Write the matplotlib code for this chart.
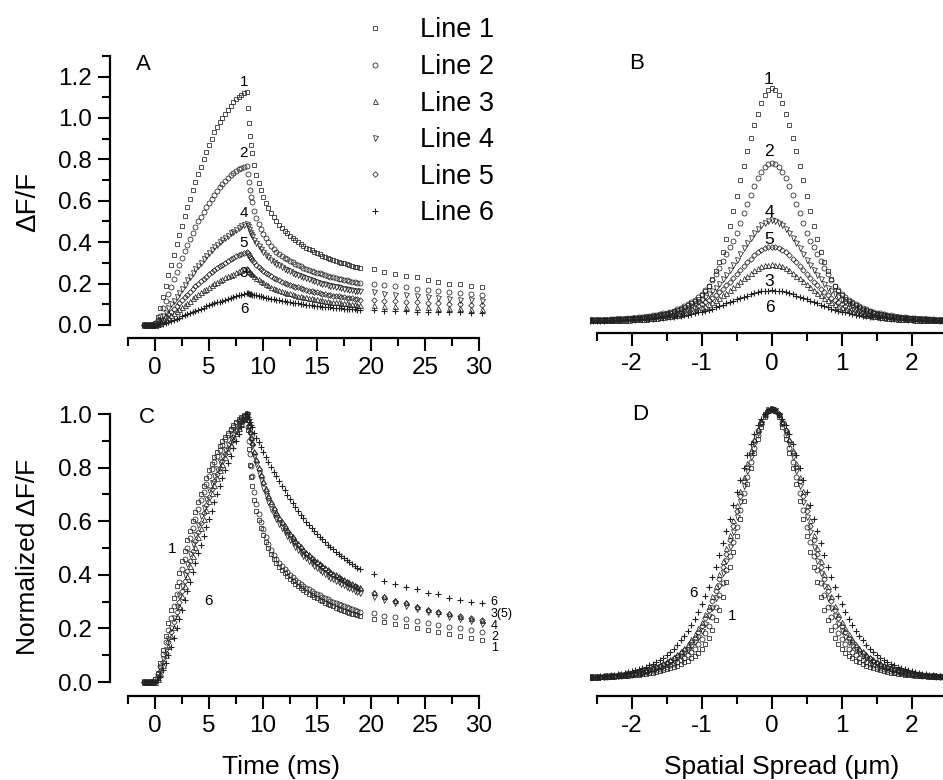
import matplotlib.pyplot as plt
from matplotlib.ticker import MultipleLocator, FormatStrFormatter

plt.rcParams["font.family"] = ["Liberation Sans", "DejaVu Sans"]
plt.rcParams["axes.unicode_minus"] = False

# time base (ms): dense sampling to 19 ms, then one point per ms
time_ms = [-1.0, -0.75, -0.5, -0.25, 0.0, 0.25, 0.5, 0.75, 1.0, 1.25, 1.5, 1.75, 2.0, 2.25, 2.5, 2.75,
           3.0, 3.25, 3.5, 3.75, 4.0, 4.25, 4.5, 4.75, 5.0, 5.25, 5.5, 5.75, 6.0, 6.25, 6.5, 6.75,
           7.0, 7.25, 7.5, 7.75, 8.0, 8.25, 8.5,
           8.6, 8.7, 8.8, 8.9, 9.0, 9.2, 9.4, 9.6, 9.8, 10.0,
           10.25, 10.5, 10.75, 11.0, 11.25, 11.5, 11.75, 12.0, 12.25, 12.5, 12.75, 13.0, 13.25, 13.5,
           13.75, 14.0, 14.25, 14.5, 14.75, 15.0, 15.25, 15.5, 15.75, 16.0, 16.25, 16.5, 16.75, 17.0,
           17.25, 17.5, 17.75, 18.0, 18.25, 18.5, 18.75, 19.0,
           20.25, 21.25, 22.25, 23.25, 24.25, 25.25, 26.25, 27.25, 28.25, 29.25, 30.25]

# panel A: dF/F
dff_line1 = [0.0, 0.0, 0.0, 0.0, 0.01, 0.04, 0.08, 0.135, 0.19, 0.24, 0.29, 0.34, 0.39, 0.435, 0.48, 0.525, 0.57, 0.61, 0.65, 0.69,
             0.73, 0.765, 0.8, 0.835, 0.87, 0.9, 0.93, 0.955, 0.98, 1.0, 1.02, 1.04, 1.06, 1.075, 1.09, 1.1, 1.11, 1.12, 1.127,
             1.05, 0.975, 0.915, 0.868, 0.83, 0.775, 0.725, 0.685, 0.65, 0.62,
             0.59, 0.565, 0.541, 0.52, 0.501, 0.485, 0.469, 0.455, 0.442, 0.43, 0.419, 0.408, 0.399, 0.39, 0.382, 0.374, 0.367, 0.36,
             0.353, 0.347, 0.341, 0.335, 0.329, 0.324, 0.319, 0.314, 0.309, 0.305, 0.301, 0.297, 0.293, 0.289, 0.285, 0.282, 0.279, 0.276,
             0.269, 0.258, 0.246, 0.237, 0.23, 0.217, 0.209, 0.2, 0.196, 0.19, 0.185]
dff_line2 = [0.0, 0.0, 0.0, 0.0, 0.01, 0.025, 0.045, 0.08, 0.115, 0.15, 0.185, 0.22, 0.255, 0.29, 0.325, 0.355, 0.385, 0.415, 0.445, 0.473,
             0.5, 0.523, 0.545, 0.568, 0.59, 0.61, 0.63, 0.648, 0.665, 0.68, 0.695, 0.71, 0.725, 0.735, 0.745, 0.753, 0.76, 0.765, 0.77,
             0.73, 0.69, 0.65, 0.62, 0.595, 0.55, 0.515, 0.49, 0.463, 0.44,
             0.418, 0.4, 0.383, 0.367, 0.354, 0.343, 0.334, 0.325, 0.317, 0.309, 0.302, 0.295, 0.289, 0.283, 0.277, 0.272, 0.267, 0.262,
             0.257, 0.253, 0.249, 0.245, 0.241, 0.237, 0.233, 0.23, 0.227, 0.224, 0.221, 0.218, 0.215, 0.212, 0.209, 0.207, 0.205, 0.202,
             0.198, 0.192, 0.186, 0.181, 0.175, 0.17, 0.165, 0.159, 0.154, 0.15, 0.145]
dff_line3 = [0.0, 0.0, 0.0, 0.0, 0.0, 0.004, 0.01, 0.018, 0.027, 0.037, 0.047, 0.057, 0.067, 0.077, 0.088, 0.098, 0.108, 0.118, 0.129, 0.138,
             0.148, 0.158, 0.167, 0.176, 0.185, 0.193, 0.201, 0.209, 0.216, 0.223, 0.23, 0.236, 0.242, 0.248, 0.255, 0.26, 0.264, 0.269, 0.274,
             0.269, 0.262, 0.256, 0.25, 0.245, 0.236, 0.228, 0.22, 0.213, 0.206,
             0.198, 0.191, 0.185, 0.179, 0.174, 0.169, 0.164, 0.16, 0.156, 0.153, 0.149, 0.145, 0.142, 0.139, 0.136, 0.133, 0.13, 0.128,
             0.126, 0.124, 0.121, 0.119, 0.117, 0.115, 0.113, 0.112, 0.11, 0.109, 0.107, 0.105, 0.104, 0.102, 0.1, 0.099, 0.098, 0.097,
             0.095, 0.093, 0.091, 0.089, 0.087, 0.085, 0.083, 0.081, 0.08, 0.079, 0.078]
dff_line4 = [0.0, 0.0, 0.0, 0.0, 0.0, 0.01, 0.025, 0.042, 0.06, 0.08, 0.1, 0.118, 0.135, 0.155, 0.175, 0.195, 0.215, 0.233, 0.25, 0.268,
             0.285, 0.301, 0.317, 0.334, 0.35, 0.363, 0.375, 0.388, 0.4, 0.411, 0.422, 0.432, 0.442, 0.451, 0.459, 0.468, 0.476, 0.482, 0.488,
             0.476, 0.464, 0.451, 0.44, 0.43, 0.412, 0.396, 0.381, 0.367, 0.354,
             0.34, 0.327, 0.316, 0.305, 0.296, 0.288, 0.28, 0.272, 0.265, 0.259, 0.252, 0.246, 0.24, 0.235, 0.23, 0.225, 0.22, 0.216,
             0.212, 0.208, 0.204, 0.2, 0.197, 0.194, 0.19, 0.187, 0.185, 0.182, 0.179, 0.176, 0.173, 0.171, 0.168, 0.166, 0.164, 0.162,
             0.157, 0.152, 0.147, 0.143, 0.139, 0.135, 0.131, 0.127, 0.123, 0.12, 0.117]
dff_line5 = [0.0, 0.0, 0.0, 0.0, 0.0, 0.006, 0.014, 0.026, 0.039, 0.052, 0.065, 0.078, 0.092, 0.106, 0.12, 0.134, 0.147, 0.16, 0.173, 0.186,
             0.198, 0.211, 0.223, 0.234, 0.244, 0.255, 0.266, 0.275, 0.283, 0.292, 0.301, 0.309, 0.317, 0.324, 0.331, 0.337, 0.343, 0.349, 0.354,
             0.346, 0.338, 0.33, 0.322, 0.315, 0.303, 0.292, 0.282, 0.272, 0.263,
             0.253, 0.244, 0.236, 0.228, 0.221, 0.215, 0.209, 0.204, 0.199, 0.194, 0.189, 0.185, 0.181, 0.177, 0.173, 0.17, 0.166, 0.163,
             0.16, 0.157, 0.154, 0.152, 0.149, 0.147, 0.144, 0.142, 0.14, 0.138, 0.136, 0.134, 0.132, 0.13, 0.128, 0.126, 0.124, 0.123,
             0.121, 0.118, 0.115, 0.112, 0.109, 0.106, 0.104, 0.101, 0.099, 0.097, 0.095]
dff_line6 = [0.0, 0.0, 0.0, 0.0, 0.0, 0.001, 0.003, 0.007, 0.011, 0.015, 0.02, 0.025, 0.031, 0.036, 0.042, 0.047, 0.053, 0.058, 0.064, 0.069,
             0.074, 0.079, 0.084, 0.09, 0.095, 0.1, 0.104, 0.109, 0.113, 0.118, 0.122, 0.127, 0.131, 0.136, 0.14, 0.144, 0.147, 0.151, 0.155,
             0.153, 0.152, 0.15, 0.149, 0.147, 0.145, 0.143, 0.141, 0.138, 0.135,
             0.132, 0.129, 0.126, 0.124, 0.121, 0.119, 0.116, 0.114, 0.112, 0.11, 0.108, 0.106, 0.104, 0.102, 0.1, 0.098, 0.096, 0.095,
             0.093, 0.092, 0.09, 0.089, 0.087, 0.086, 0.085, 0.084, 0.082, 0.081, 0.08, 0.079, 0.078, 0.077, 0.076, 0.075, 0.074, 0.073,
             0.071, 0.069, 0.068, 0.066, 0.065, 0.064, 0.063, 0.062, 0.061, 0.06, 0.059]

# panel C: normalized dF/F
norm_line1 = [0.0, 0.0, 0.0, 0.0, 0.01, 0.035, 0.07, 0.12, 0.17, 0.22, 0.27, 0.315, 0.36, 0.405, 0.45, 0.49, 0.53, 0.565, 0.6, 0.635,
              0.67, 0.7, 0.73, 0.76, 0.79, 0.815, 0.84, 0.86, 0.88, 0.898, 0.915, 0.93, 0.945, 0.958, 0.97, 0.98, 0.99, 0.995, 1.0,
              0.94, 0.87, 0.81, 0.765, 0.73, 0.68, 0.64, 0.605, 0.575, 0.55,
              0.524, 0.5, 0.479, 0.46, 0.444, 0.43, 0.417, 0.405, 0.395, 0.385, 0.376, 0.367, 0.359, 0.351, 0.344, 0.337, 0.33, 0.324,
              0.318, 0.312, 0.306, 0.301, 0.296, 0.291, 0.286, 0.282, 0.278, 0.274, 0.27, 0.266, 0.262, 0.259, 0.255, 0.252, 0.249, 0.246,
              0.234, 0.225, 0.216, 0.208, 0.2, 0.193, 0.186, 0.178, 0.171, 0.164, 0.157]
norm_line2 = [0.0, 0.0, 0.0, 0.0, 0.01, 0.03, 0.06, 0.105, 0.15, 0.195, 0.24, 0.285, 0.33, 0.375, 0.42, 0.46, 0.5, 0.538, 0.575, 0.61,
              0.645, 0.678, 0.71, 0.74, 0.77, 0.795, 0.82, 0.843, 0.865, 0.885, 0.905, 0.923, 0.94, 0.953, 0.965, 0.975, 0.985, 0.993, 1.0,
              0.95, 0.9, 0.85, 0.805, 0.77, 0.71, 0.665, 0.628, 0.597, 0.57,
              0.541, 0.515, 0.494, 0.475, 0.459, 0.445, 0.432, 0.42, 0.41, 0.4, 0.391, 0.382, 0.374, 0.366, 0.359, 0.352, 0.346, 0.34,
              0.334, 0.328, 0.323, 0.318, 0.313, 0.308, 0.303, 0.299, 0.295, 0.291, 0.287, 0.283, 0.279, 0.276, 0.272, 0.269, 0.266, 0.263,
              0.256, 0.248, 0.241, 0.234, 0.227, 0.22, 0.213, 0.207, 0.2, 0.194, 0.188]
norm_line3 = [0.0, 0.0, 0.0, 0.0, 0.0, 0.012, 0.035, 0.065, 0.1, 0.135, 0.17, 0.207, 0.245, 0.283, 0.32, 0.358, 0.395, 0.433, 0.47, 0.505,
              0.54, 0.575, 0.61, 0.643, 0.675, 0.705, 0.735, 0.763, 0.79, 0.815, 0.84, 0.863, 0.885, 0.908, 0.93, 0.948, 0.965, 0.983, 1.0,
              0.98, 0.958, 0.936, 0.915, 0.895, 0.863, 0.833, 0.804, 0.776, 0.75,
              0.723, 0.697, 0.674, 0.653, 0.634, 0.617, 0.6, 0.585, 0.571, 0.557, 0.544, 0.531, 0.519, 0.508, 0.497, 0.487, 0.477, 0.468,
              0.459, 0.451, 0.443, 0.435, 0.428, 0.421, 0.414, 0.408, 0.402, 0.396, 0.39, 0.384, 0.378, 0.373, 0.368, 0.363, 0.358, 0.354,
              0.335, 0.321, 0.307, 0.297, 0.284, 0.273, 0.265, 0.256, 0.248, 0.24, 0.233]
norm_line4 = [0.0, 0.0, 0.0, 0.0, 0.0, 0.02, 0.05, 0.085, 0.12, 0.16, 0.2, 0.24, 0.28, 0.32, 0.36, 0.4, 0.44, 0.478, 0.515, 0.55,
              0.585, 0.618, 0.65, 0.683, 0.715, 0.743, 0.77, 0.795, 0.82, 0.843, 0.865, 0.885, 0.905, 0.923, 0.94, 0.958, 0.975, 0.988, 1.0,
              0.975, 0.95, 0.925, 0.902, 0.88, 0.845, 0.812, 0.781, 0.752, 0.725,
              0.697, 0.67, 0.646, 0.625, 0.607, 0.59, 0.573, 0.558, 0.544, 0.53, 0.517, 0.505, 0.493, 0.482, 0.472, 0.462, 0.452, 0.443,
              0.434, 0.426, 0.418, 0.411, 0.404, 0.397, 0.39, 0.384, 0.378, 0.372, 0.366, 0.361, 0.356, 0.351, 0.346, 0.341, 0.336, 0.332,
              0.318, 0.306, 0.294, 0.283, 0.272, 0.262, 0.252, 0.243, 0.234, 0.226, 0.218]
norm_line5 = [0.0, 0.0, 0.0, 0.0, 0.0, 0.015, 0.04, 0.075, 0.11, 0.148, 0.185, 0.223, 0.26, 0.3, 0.34, 0.378, 0.415, 0.453, 0.49, 0.525,
              0.56, 0.595, 0.63, 0.66, 0.69, 0.72, 0.75, 0.775, 0.8, 0.825, 0.85, 0.873, 0.895, 0.915, 0.935, 0.953, 0.97, 0.985, 1.0,
              0.978, 0.955, 0.932, 0.911, 0.89, 0.856, 0.824, 0.795, 0.768, 0.742,
              0.714, 0.688, 0.665, 0.644, 0.626, 0.608, 0.592, 0.576, 0.562, 0.548, 0.535, 0.523, 0.511, 0.5, 0.489, 0.479, 0.469, 0.46,
              0.451, 0.443, 0.435, 0.428, 0.421, 0.414, 0.407, 0.401, 0.395, 0.389, 0.383, 0.378, 0.372, 0.367, 0.362, 0.357, 0.352, 0.348,
              0.331, 0.318, 0.303, 0.294, 0.281, 0.269, 0.262, 0.254, 0.246, 0.238, 0.231]
norm_line6 = [0.0, 0.0, 0.0, 0.0, 0.0, 0.006, 0.02, 0.043, 0.07, 0.1, 0.13, 0.165, 0.2, 0.235, 0.27, 0.305, 0.34, 0.375, 0.41, 0.445,
              0.48, 0.513, 0.545, 0.578, 0.61, 0.64, 0.67, 0.7, 0.73, 0.76, 0.79, 0.818, 0.845, 0.873, 0.9, 0.925, 0.95, 0.975, 1.0,
              0.99, 0.98, 0.97, 0.96, 0.95, 0.93, 0.912, 0.894, 0.877, 0.86,
              0.84, 0.82, 0.802, 0.785, 0.767, 0.75, 0.732, 0.715, 0.698, 0.682, 0.667, 0.652, 0.638, 0.624, 0.611, 0.598, 0.586, 0.574,
              0.563, 0.552, 0.542, 0.532, 0.522, 0.513, 0.504, 0.495, 0.486, 0.478, 0.47, 0.462, 0.454, 0.447, 0.44, 0.433, 0.426, 0.42,
              0.403, 0.378, 0.366, 0.356, 0.347, 0.331, 0.327, 0.312, 0.306, 0.3, 0.294]

# panels B/D: profiles are symmetric about 0, read for 0 .. 2.6 um
spread_um = [0.0, 0.05, 0.1, 0.15, 0.2, 0.25, 0.3, 0.35, 0.4, 0.45, 0.5, 0.55, 0.6, 0.65, 0.7, 0.75, 0.8, 0.85,
             0.9, 0.95, 1.0, 1.05, 1.1, 1.15, 1.2, 1.25, 1.3, 1.35, 1.4, 1.45, 1.5, 1.55, 1.6, 1.65, 1.7, 1.75,
             1.8, 1.85, 1.9, 1.95, 2.0, 2.05, 2.1, 2.15, 2.2, 2.25, 2.3, 2.35, 2.4, 2.45, 2.5, 2.55, 2.6]
prof_line1 = [1.143, 1.135, 1.11, 1.07, 1.02, 0.965, 0.905, 0.84, 0.77, 0.7, 0.625, 0.55, 0.48, 0.415, 0.355, 0.305, 0.26, 0.222,
              0.19, 0.165, 0.145, 0.128, 0.115, 0.104, 0.095, 0.086, 0.078, 0.072, 0.066, 0.06, 0.055, 0.051, 0.047, 0.044, 0.042, 0.04,
              0.038, 0.036, 0.035, 0.033, 0.032, 0.031, 0.03, 0.029, 0.028, 0.027, 0.026, 0.026, 0.025, 0.025, 0.024, 0.024, 0.023]
prof_line2 = [0.78, 0.776, 0.765, 0.74, 0.71, 0.672, 0.63, 0.585, 0.54, 0.492, 0.445, 0.408, 0.375, 0.342, 0.31, 0.277, 0.245, 0.217,
              0.19, 0.169, 0.15, 0.134, 0.12, 0.11, 0.1, 0.091, 0.083, 0.076, 0.07, 0.065, 0.06, 0.056, 0.052, 0.049, 0.046, 0.043,
              0.041, 0.039, 0.037, 0.035, 0.034, 0.032, 0.031, 0.03, 0.029, 0.028, 0.027, 0.026, 0.026, 0.025, 0.025, 0.024, 0.024]
prof_line3 = [0.293, 0.292, 0.289, 0.283, 0.275, 0.264, 0.252, 0.239, 0.226, 0.212, 0.198, 0.184, 0.17, 0.156, 0.143, 0.131, 0.12, 0.11,
              0.1, 0.092, 0.085, 0.078, 0.072, 0.067, 0.062, 0.058, 0.054, 0.05, 0.047, 0.044, 0.042, 0.04, 0.038, 0.036, 0.034, 0.032,
              0.031, 0.03, 0.029, 0.028, 0.027, 0.026, 0.026, 0.025, 0.025, 0.024, 0.024, 0.023, 0.023, 0.022, 0.022, 0.022, 0.022]
prof_line4 = [0.505, 0.502, 0.495, 0.482, 0.465, 0.444, 0.42, 0.395, 0.37, 0.342, 0.315, 0.29, 0.265, 0.242, 0.22, 0.2, 0.18, 0.163,
              0.148, 0.133, 0.12, 0.11, 0.1, 0.091, 0.083, 0.076, 0.07, 0.065, 0.06, 0.056, 0.052, 0.049, 0.046, 0.043, 0.041, 0.039,
              0.037, 0.035, 0.034, 0.032, 0.031, 0.03, 0.029, 0.028, 0.027, 0.026, 0.026, 0.025, 0.025, 0.024, 0.024, 0.023, 0.023]
prof_line5 = [0.378, 0.376, 0.372, 0.363, 0.352, 0.337, 0.32, 0.303, 0.285, 0.265, 0.245, 0.227, 0.21, 0.192, 0.175, 0.16, 0.145, 0.132,
              0.12, 0.11, 0.1, 0.092, 0.085, 0.078, 0.072, 0.067, 0.062, 0.058, 0.054, 0.05, 0.047, 0.044, 0.042, 0.04, 0.038, 0.036,
              0.034, 0.032, 0.031, 0.03, 0.029, 0.028, 0.027, 0.026, 0.026, 0.025, 0.025, 0.024, 0.024, 0.023, 0.023, 0.022, 0.022]
prof_line6 = [0.167, 0.166, 0.165, 0.162, 0.158, 0.153, 0.148, 0.142, 0.136, 0.13, 0.124, 0.117, 0.111, 0.104, 0.098, 0.091, 0.085, 0.079,
              0.074, 0.069, 0.065, 0.061, 0.057, 0.053, 0.05, 0.047, 0.045, 0.043, 0.041, 0.039, 0.037, 0.035, 0.034, 0.032, 0.031, 0.03,
              0.029, 0.028, 0.027, 0.026, 0.025, 0.025, 0.024, 0.024, 0.023, 0.023, 0.022, 0.022, 0.021, 0.021, 0.021, 0.02, 0.02]

nprof_line1 = [1.02, 1.012, 0.99, 0.952, 0.905, 0.855, 0.8, 0.74, 0.675, 0.61, 0.545, 0.485, 0.43, 0.372, 0.318, 0.27, 0.23, 0.195,
               0.165, 0.143, 0.125, 0.11, 0.098, 0.088, 0.08, 0.073, 0.066, 0.06, 0.055, 0.051, 0.047, 0.043, 0.04, 0.037, 0.035, 0.033,
               0.031, 0.029, 0.028, 0.026, 0.025, 0.024, 0.023, 0.022, 0.021, 0.02, 0.019, 0.019, 0.018, 0.018, 0.017, 0.017, 0.016]
nprof_line2 = [1.02, 1.013, 0.995, 0.962, 0.92, 0.872, 0.82, 0.765, 0.705, 0.642, 0.58, 0.523, 0.47, 0.418, 0.37, 0.323, 0.28, 0.243,
               0.21, 0.183, 0.16, 0.141, 0.125, 0.112, 0.1, 0.09, 0.082, 0.074, 0.068, 0.062, 0.057, 0.052, 0.048, 0.044, 0.041, 0.038,
               0.036, 0.033, 0.031, 0.029, 0.028, 0.026, 0.025, 0.024, 0.023, 0.022, 0.021, 0.02, 0.019, 0.019, 0.018, 0.017, 0.017]
nprof_line3 = [1.02, 1.015, 1.0, 0.975, 0.945, 0.908, 0.865, 0.817, 0.765, 0.713, 0.66, 0.605, 0.55, 0.5, 0.45, 0.404, 0.36, 0.321,
               0.285, 0.254, 0.225, 0.2, 0.178, 0.159, 0.142, 0.128, 0.115, 0.104, 0.094, 0.085, 0.077, 0.07, 0.064, 0.059, 0.054, 0.05,
               0.046, 0.042, 0.039, 0.036, 0.034, 0.032, 0.03, 0.028, 0.027, 0.025, 0.024, 0.023, 0.022, 0.021, 0.02, 0.02, 0.019]
nprof_line4 = [1.02, 1.014, 0.998, 0.968, 0.93, 0.887, 0.84, 0.787, 0.73, 0.672, 0.615, 0.558, 0.505, 0.453, 0.405, 0.358, 0.315, 0.278,
               0.245, 0.216, 0.19, 0.169, 0.15, 0.134, 0.12, 0.108, 0.097, 0.088, 0.08, 0.073, 0.066, 0.06, 0.055, 0.051, 0.047, 0.043,
               0.04, 0.037, 0.035, 0.033, 0.031, 0.029, 0.027, 0.025, 0.024, 0.023, 0.022, 0.021, 0.02, 0.019, 0.019, 0.018, 0.018]
nprof_line5 = [1.02, 1.015, 1.0, 0.972, 0.94, 0.9, 0.855, 0.803, 0.75, 0.695, 0.64, 0.584, 0.53, 0.478, 0.43, 0.383, 0.34, 0.302,
               0.268, 0.238, 0.21, 0.186, 0.165, 0.148, 0.132, 0.119, 0.107, 0.097, 0.088, 0.08, 0.072, 0.066, 0.06, 0.055, 0.051, 0.047,
               0.043, 0.04, 0.037, 0.035, 0.033, 0.031, 0.029, 0.027, 0.026, 0.024, 0.023, 0.022, 0.021, 0.02, 0.02, 0.019, 0.018]
nprof_line6 = [1.02, 1.015, 1.0, 0.983, 0.96, 0.927, 0.89, 0.847, 0.8, 0.755, 0.71, 0.66, 0.61, 0.565, 0.52, 0.475, 0.43, 0.391,
               0.355, 0.322, 0.29, 0.262, 0.235, 0.212, 0.19, 0.172, 0.155, 0.139, 0.125, 0.112, 0.1, 0.09, 0.082, 0.075, 0.068, 0.062,
               0.056, 0.051, 0.047, 0.043, 0.04, 0.037, 0.034, 0.031, 0.029, 0.027, 0.025, 0.023, 0.022, 0.021, 0.02, 0.019, 0.018]

line_names = ["Line 1", "Line 2", "Line 3", "Line 4", "Line 5", "Line 6"]
line_markers = ["s", "o", "^", "v", "D", "+"]
marker_sizes = [3.4, 3.6, 3.6, 3.6, 2.8, 4.5]

dff_all = [dff_line1, dff_line2, dff_line3, dff_line4, dff_line5, dff_line6]
norm_all = [norm_line1, norm_line2, norm_line3, norm_line4, norm_line5, norm_line6]
prof_all = [prof_line1, prof_line2, prof_line3, prof_line4, prof_line5, prof_line6]
nprof_all = [nprof_line1, nprof_line2, nprof_line3, nprof_line4, nprof_line5, nprof_line6]

x_full = [-v for v in spread_um[:0:-1]] + spread_um


def mirrored(half):
    return half[:0:-1] + half


def style(i):
    return dict(linestyle="none", marker=line_markers[i], markersize=marker_sizes[i],
                markerfacecolor="none", markeredgecolor="#222222",
                markeredgewidth=0.8 if line_markers[i] == "+" else 0.55)


def frame(ax, xbounds, show_y):
    for side in ("top", "right"):
        ax.spines[side].set_visible(False)
    ax.spines["bottom"].set_bounds(*xbounds)
    ax.spines["bottom"].set_linewidth(1.6)
    ax.spines["left"].set_linewidth(1.6)
    ax.tick_params(which="major", length=9, width=1.5, labelsize=17.5, direction="out")
    ax.tick_params(which="minor", length=5.5, width=1.5, direction="out")
    ax.tick_params(axis="x", pad=5)
    ax.tick_params(axis="y", pad=4)
    if not show_y:
        ax.spines["left"].set_visible(False)
        ax.tick_params(axis="y", which="both", left=False, labelleft=False)


fig = plt.figure(figsize=(9.43, 7.8), dpi=100)
ax_a = fig.add_axes([0.1162, 0.5667, 0.4032, 0.3628])
ax_b = fig.add_axes([0.6253, 0.5727, 0.3860, 0.3568])
ax_c = fig.add_axes([0.1162, 0.1081, 0.4032, 0.3714])
ax_d = fig.add_axes([0.6253, 0.1081, 0.3860, 0.3714])

handles = []
for i in range(6):
    h, = ax_a.plot(time_ms, dff_all[i], label=line_names[i], **style(i))
    handles.append(h)
    ax_c.plot(time_ms, norm_all[i], **style(i))
    ax_b.plot(x_full, mirrored(prof_all[i]), **style(i))
    ax_d.plot(x_full, mirrored(nprof_all[i]), **style(i))

# time panels
for ax in (ax_a, ax_c):
    ax.set_xlim(-4.2, 31.0)
    frame(ax, (-2.5, 30), True)
    ax.xaxis.set_major_locator(MultipleLocator(5))
    ax.xaxis.set_minor_locator(MultipleLocator(2.5))
    ax.yaxis.set_major_locator(MultipleLocator(0.2))
    ax.yaxis.set_minor_locator(MultipleLocator(0.1))
    ax.yaxis.set_major_formatter(FormatStrFormatter("%.1f"))

ax_a.set_ylim(-0.0628, 1.304)
ax_a.spines["left"].set_bounds(0, 1.3)
ax_c.set_ylim(-0.051, 1.03)
ax_c.spines["left"].set_bounds(0, 1.0)

# spatial panels
for ax in (ax_b, ax_d):
    ax.set_xlim(-2.6, 2.6)
    frame(ax, (-2.5, 2.6), False)
    ax.xaxis.set_major_locator(MultipleLocator(1))
    ax.xaxis.set_minor_locator(MultipleLocator(0.5))
    ax.xaxis.set_major_formatter(FormatStrFormatter("%d"))
ax_b.set_ylim(-0.040, 1.304)
ax_d.set_ylim(-0.051, 1.03)

# axis labels
ax_a.set_ylabel("\u0394F/F", fontsize=20)
ax_a.yaxis.set_label_coords(-0.215, 0.48)
ax_c.set_ylabel("Normalized \u0394F/F", fontsize=19)
ax_c.yaxis.set_label_coords(-0.215, 0.479)
ax_c.set_xlabel("Time (ms)", fontsize=19)
ax_c.xaxis.set_label_coords(0.451, -0.245)
ax_d.set_xlabel("Spatial Spread (\u03bcm)", fontsize=19)
ax_d.xaxis.set_label_coords(0.528, -0.245)
for lab in (ax_a.yaxis.label, ax_c.yaxis.label, ax_c.xaxis.label, ax_d.xaxis.label):
    lab.set_verticalalignment("center")

# panel letters
for ax, letter, (px, py) in ((ax_a, "A", (0.089, 0.965)), (ax_b, "B", (0.129, 0.970)),
                             (ax_c, "C", (0.098, 0.959)), (ax_d, "D", (0.138, 0.969))):
    ax.text(px, py, letter, transform=ax.transAxes, fontsize=16, ha="center", va="center")

# curve numbers
for txt, x, y in (("1", 8.24, 1.174), ("2", 8.24, 0.831), ("4", 8.24, 0.543),
                  ("5", 8.24, 0.396), ("3", 8.24, 0.251), ("6", 8.3, 0.077)):
    ax_a.text(x, y, txt, fontsize=11, ha="center", va="center")
for txt, x, y in (("1", -0.05, 1.184), ("2", -0.04, 0.837), ("4", -0.03, 0.542),
                  ("5", -0.03, 0.411), ("3", -0.03, 0.209), ("6", -0.03, 0.086)):
    ax_b.text(x, y, txt, fontsize=12.5, ha="center", va="center")
ax_c.text(1.55, 0.496, "1", fontsize=11, ha="center", va="center")
ax_c.text(4.93, 0.303, "6", fontsize=11, ha="center", va="center")
for txt, y in (("6", 0.298), ("3(5)", 0.252), ("4", 0.21), ("2", 0.168), ("1", 0.126)):
    ax_c.text(31.1, y, txt, fontsize=9, ha="left", va="center")
ax_d.text(-1.12, 0.331, "6", fontsize=11, ha="center", va="center")
ax_d.text(-0.57, 0.246, "1", fontsize=11, ha="center", va="center")

fig.legend(handles=handles, loc="upper left", bbox_to_anchor=(0.3834, 0.9776),
           frameon=False, fontsize=19.5, handlelength=1.0, handletextpad=1.16,
           labelspacing=0.39, borderaxespad=0, borderpad=0)

fig.savefig("out.png", dpi=100, facecolor="white")
